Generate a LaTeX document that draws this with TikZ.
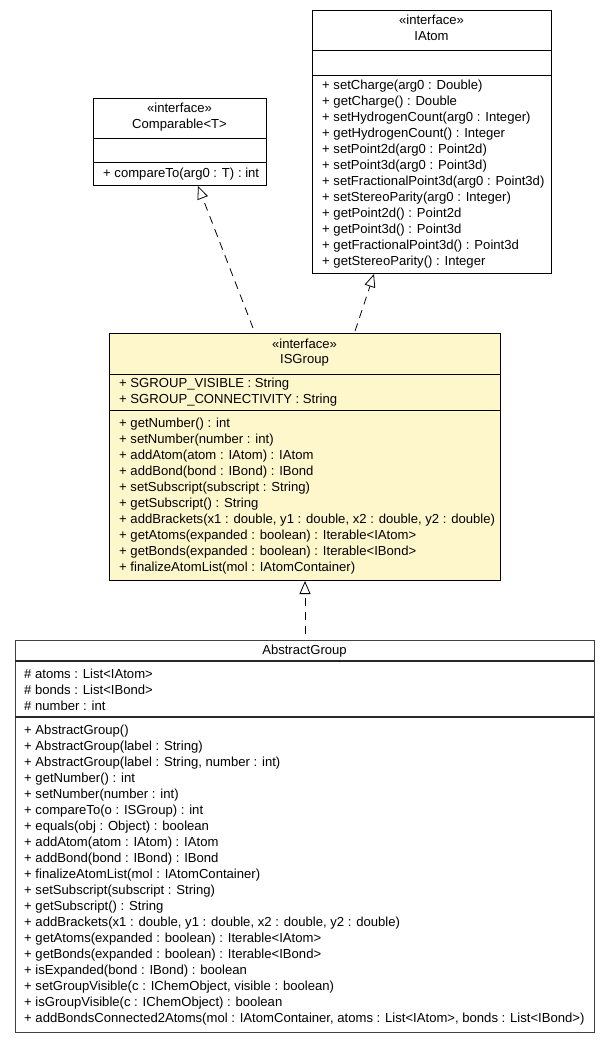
\documentclass[tikz,border=0pt]{standalone}
\usepackage{fontspec}
\setmainfont{Liberation Sans}
\usetikzlibrary{arrows.meta}
\definecolor{isgfill}{RGB}{255,247,204}
\definecolor{absline}{RGB}{64,64,64}
\definecolor{absdiv}{RGB}{40,40,40}
\begin{document}
\begin{tikzpicture}[x=1pt,y=-1pt,
  box/.style={draw=black, line width=0.9pt, fill=white, anchor=north west, inner sep=0pt},
  txt/.style={anchor=west, inner sep=0pt, font=\fontsize{13.1}{14}\selectfont, text height=9pt, text depth=3pt},
  ctxt/.style={anchor=center, inner sep=0pt, font=\fontsize{13.1}{14}\selectfont, text height=9pt, text depth=3pt},
  impl/.style={draw=black, line width=0.8pt, dash pattern=on 8pt off 6pt,
    -{Triangle[open, length=13pt, width=11pt, fill=white]}}]
\useasboundingbox (0,0) rectangle (611,1043);
\fill[white] (0,0) rectangle (611,1043);

% Comparable
\node[box, minimum width=173pt, minimum height=87pt] (cmp) at (93,98) {};
\draw[line width=0.9pt] (93,138) -- (266,138);
\draw[line width=0.9pt] (93,162) -- (266,162);
\node[ctxt] (cmpS) at (179.5,109.5) {«interface»};
\node[ctxt] (cmpN) at (179.5,125.5) {Comparable<T>};
\node[txt] (cmpM1) at (103,174.5) {+ compareTo(arg0 : T) : int};

% IAtom
\node[box, minimum width=239pt, minimum height=263pt] (iat) at (312,10) {};
\draw[line width=0.9pt] (312,50) -- (551,50);
\draw[line width=0.9pt] (312,75) -- (551,75);
\node[ctxt] (iatS) at (431.5,21.5) {«interface»};
\node[ctxt] (iatN) at (431.5,37.5) {IAtom};
\foreach \t [count=\i from 0] in {
  {+ setCharge(arg0 : Double)},
  {+ getCharge() : Double},
  {+ setHydrogenCount(arg0 : Integer)},
  {+ getHydrogenCount() : Integer},
  {+ setPoint2d(arg0 : Point2d)},
  {+ setPoint3d(arg0 : Point3d)},
  {+ setFractionalPoint3d(arg0 : Point3d)},
  {+ setStereoParity(arg0 : Integer)},
  {+ getPoint2d() : Point2d},
  {+ getPoint3d() : Point3d},
  {+ getFractionalPoint3d() : Point3d},
  {+ getStereoParity() : Integer}}
  \node[txt] (iatM\i) at (322,{86.5+16*\i}) {\t};

% ISGroup
\node[box, fill=isgfill, minimum width=391pt, minimum height=247pt] (isg) at (109,333) {};
\draw[line width=0.9pt] (109,374) -- (500,374);
\draw[line width=0.9pt] (109,410) -- (500,410);
\node[ctxt] (isgS) at (304.5,345.5) {«interface»};
\node[ctxt] (isgN) at (304.5,360.5) {ISGroup};
\node[txt] (isgA0) at (119,384.5) {+ SGROUP\_VISIBLE : String};
\node[txt] (isgA1) at (119,400.5) {+ SGROUP\_CONNECTIVITY : String};
\foreach \t [count=\i from 0] in {
  {+ getNumber() : int},
  {+ setNumber(number : int)},
  {+ addAtom(atom : IAtom) : IAtom},
  {+ addBond(bond : IBond) : IBond},
  {+ setSubscript(subscript : String)},
  {+ getSubscript() : String},
  {+ addBrackets(x1 : double, y1 : double, x2 : double, y2 : double)},
  {+ getAtoms(expanded : boolean) : Iterable<IAtom>},
  {+ getBonds(expanded : boolean) : Iterable<IBond>},
  {+ finalizeAtomList(mol : IAtomContainer)}}
  \node[txt] (isgM\i) at (119,{424.5+16*\i}) {\t};

% AbstractGroup
\node[box, draw=absline, line width=1.4pt, minimum width=579pt, minimum height=392pt] (abs) at (15,640) {};
\draw[line width=1.2pt, absdiv] (15,661) -- (594,661);
\draw[line width=1.2pt, absdiv] (15,717) -- (594,717);
\node[ctxt] (absN) at (304.5,651.5) {AbstractGroup};
\node[txt] (absA0) at (24,675.5) {\# atoms : List<IAtom>};
\node[txt] (absA1) at (24,691.5) {\# bonds : List<IBond>};
\node[txt] (absA2) at (24,707.5) {\# number : int};
\foreach \t [count=\i from 0] in {
  {+ AbstractGroup()},
  {+ AbstractGroup(label : String)},
  {+ AbstractGroup(label : String, number : int)},
  {+ getNumber() : int},
  {+ setNumber(number : int)},
  {+ compareTo(o : ISGroup) : int},
  {+ equals(obj : Object) : boolean},
  {+ addAtom(atom : IAtom) : IAtom},
  {+ addBond(bond : IBond) : IBond},
  {+ finalizeAtomList(mol : IAtomContainer)},
  {+ setSubscript(subscript : String)},
  {+ getSubscript() : String},
  {+ addBrackets(x1 : double, y1 : double, x2 : double, y2 : double)},
  {+ getAtoms(expanded : boolean) : Iterable<IAtom>},
  {+ getBonds(expanded : boolean) : Iterable<IBond>},
  {+ isExpanded(bond : IBond) : boolean},
  {+ setGroupVisible(c : IChemObject, visible : boolean)},
  {+ isGroupVisible(c : IChemObject) : boolean},
  {+ addBondsConnected2Atoms(mol : IAtomContainer, atoms : List<IAtom>, bonds : List<IBond>)}}
  \node[txt] (absM\i) at (24,{731.5+16*\i}) {\t};

% connectors
\coordinate (e1s) at (253,328);
\coordinate (e1t) at (198,186);
\coordinate (e2s) at (355,331);
\coordinate (e2t) at (374,274);
\coordinate (e3s) at (305,634);
\coordinate (e3t) at (305,581);
\draw[impl] (e1s) -- (e1t);
\draw[impl] (e2s) -- (e2t);
\draw[impl] (e3s) -- (e3t);
\end{tikzpicture}
\end{document}
